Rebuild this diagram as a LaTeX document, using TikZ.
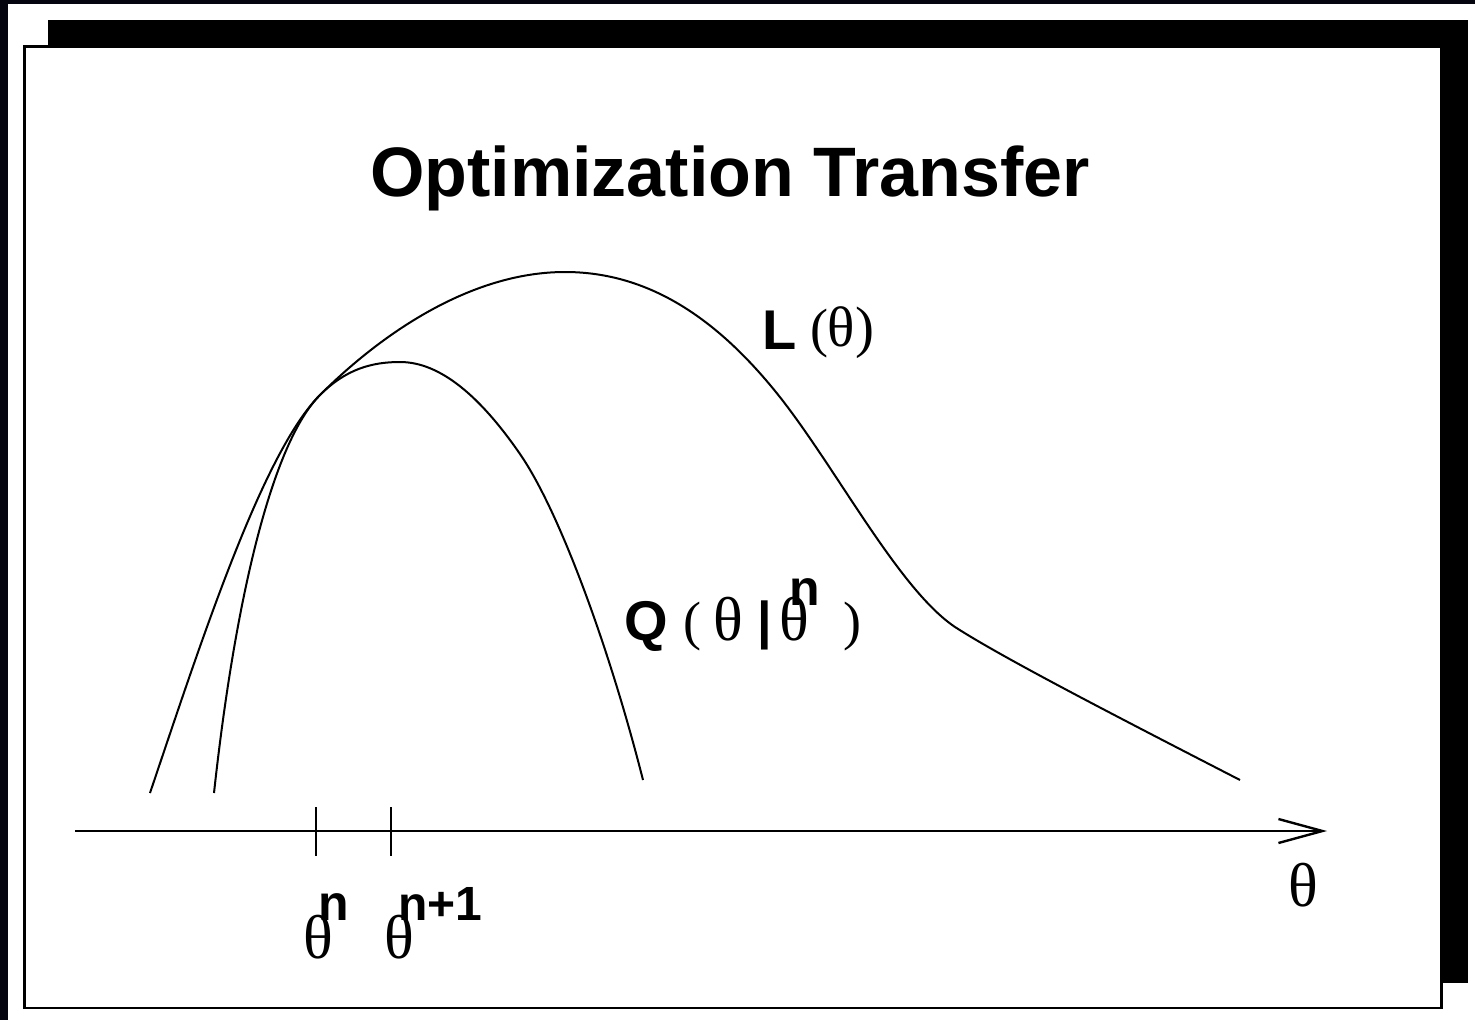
\documentclass[tikz,border=0pt]{standalone}
\usepackage{fontspec}
\setmainfont{Liberation Serif}
\newfontfamily\hvfont{Liberation Sans}
\usetikzlibrary{arrows.meta}
\definecolor{edgedark}{RGB}{5,5,15}
\tikzset{
  lab/.style={inner sep=0pt, outer sep=0pt, anchor=base west},
  hvb/.style={font=\hvfont\bfseries\fontsize{#1}{#1}\selectfont},
  tms/.style={font=\fontsize{#1}{#1}\selectfont},
  curve/.style={line width=2pt, line join=round},
  axisline/.style={line width=2.4pt, -{Straight Barb[length=44pt, width=24pt, line width=2.4pt]}},
  tick/.style={line width=2.2pt}
}
\begin{document}
\begin{tikzpicture}[x=1pt, y=-1pt]
\useasboundingbox (0,0) rectangle (1475,1020);
% page edge strips
\fill[edgedark] (0,0) rectangle (8,1020);
\fill[edgedark] (0,0) rectangle (1475,4);
% shadow and frame
\fill[black] (48,20) rectangle (1468,983);
\draw[line width=2.5pt, fill=white] (24.5,46.5) rectangle (1441.5,1008);
% title
\node[hvb=70, inner sep=0pt, anchor=base] (title) at (730,196) {Optimization Transfer};
% L curve
\draw[curve] (150,793) .. controls (200,645) and (262,453) .. (320,395)
  .. controls (380,335) and (470,272) .. (565,272)
  .. controls (650,272) and (720,320) .. (783,401)
  .. controls (840,475) and (900,590) .. (955,627)
  .. controls (1000,656) and (1100,708) .. (1240,780);
% Q curve
\draw[curve] (214,793) .. controls (235,600) and (272,443) .. (320,395)
  .. controls (346,369) and (372,362) .. (400,362)
  .. controls (440,362) and (480,396) .. (520,454)
  .. controls (560,512) and (610,650) .. (643,780);
% axis
\coordinate (ax0) at (75,831);
\coordinate (ax1) at (1327,831);
\draw[axisline] (ax0) -- (ax1);
\coordinate (t1a) at (316,807); \coordinate (t1b) at (316,856);
\coordinate (t2a) at (391,807); \coordinate (t2b) at (391,856);
\draw[tick] (t1a) -- (t1b);
\draw[tick] (t2a) -- (t2b);
% L label
\node[lab, hvb=56] (Lsym) at (762,349) {L};
\node[lab, tms=54] (Lpar) at (810,346) {(\fontsize{57}{57}\selectfont θ)};
% Q label
\node[lab, hvb=56] (Qsym) at (624,640) {Q};
\node[lab, tms=54] (Qlp) at (683,639) {(};
\node[lab, tms=62] (Qth) at (713,640) {θ};
\node[lab, hvb=52] (Qbar) at (757,638) {|};
\node[lab, tms=62] (Qth2) at (779,640) {θ};
\node[lab, hvb=50] (Qn) at (789,605) {n};
\node[lab, tms=54] (Qrp) at (843,639) {)};
% bottom labels
\node[lab, tms=62] (thn) at (303,958) {θ};
\node[lab, hvb=50] (supn) at (318,920) {n};
\node[lab, tms=62] (thn1) at (384,958) {θ};
\node[lab, hvb=48] (supn1) at (398,920) {n+1};
\node[lab, tms=62] (thax) at (1288,906) {θ};
\end{tikzpicture}
\end{document}
